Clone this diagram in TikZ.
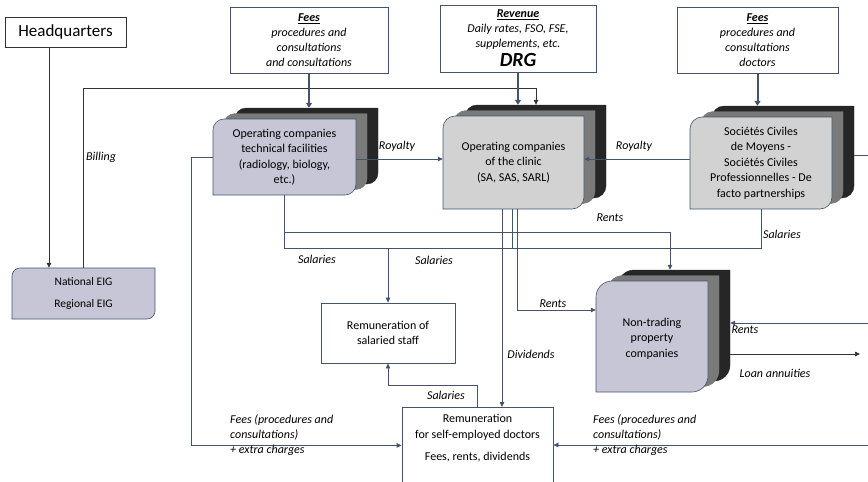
\documentclass[tikz,border=0pt]{standalone}
\usepackage{fontspec}
\setmainfont{Carlito}
\usetikzlibrary{arrows.meta,calc}

\definecolor{slate}{RGB}{68,84,106}
\definecolor{faceblue}{RGB}{198,198,214}
\definecolor{facegray}{RGB}{210,210,210}
\definecolor{layergray}{RGB}{122,122,122}
\definecolor{layerdark}{RGB}{38,38,38}

% face with rounded top-left and bottom-right corners: x1,y1,x2,y2,r,style
\newcommand{\roundface}[6]{%
  \filldraw[#6] ({#1},{#2+#5}) .. controls ({#1},{#2+0.45*#5}) and ({#1+0.45*#5},{#2}) .. ({#1+#5},{#2})
    -- ({#3},{#2}) -- ({#3},{#4-#5}) .. controls ({#3},{#4-0.45*#5}) and ({#3-0.45*#5},{#4}) .. ({#3-#5},{#4})
    -- ({#1},{#4}) -- cycle;}

% stacked box: name,x1,y1,x2,y2,face colour,text,radius
\newcommand{\stackbox}[8]{%
  \roundface{#2+22}{#3-11}{#4+22}{#5-11}{#8}{fill=layerdark,draw=layerdark}
  \roundface{#2+11}{#3-5.5}{#4+11}{#5-5.5}{#8}{fill=layergray,draw=layergray}
  \roundface{#2}{#3}{#4}{#5}{#8}{fill=#6,draw=slate,line width=0.6pt}
  \node[boxtext,minimum width={#4-#2},minimum height={#5-#3}] (#1) at ({(#2+#4)/2},{(#3+#5)/2}) {#7};}

\begin{document}
\begin{tikzpicture}[x=1pt, y=-1pt, >={Triangle[length=5pt,width=4.5pt]},
    boxtext/.style={align=center, inner sep=1pt, font=\fontsize{12}{15.5}\selectfont},
    plainbox/.style={draw=slate, line width=0.8pt, fill=white, align=center, font=\fontsize{12}{15}\selectfont},
    flowlabel/.style={inner sep=0pt, font=\fontsize{12}{15}\selectfont\itshape},
    flow/.style={draw=slate, line width=0.8pt},
    flowarrow/.style={flow, ->},
    blackarrow/.style={draw=black!80, line width=0.7pt, -{Triangle[length=5pt,width=4.5pt]}},
    feearrow/.style={draw=slate, line width=2pt, -{Triangle[length=5pt,width=6pt]}}]

  \useasboundingbox (0,0) rectangle (868,482);
  \clip (0,0) rectangle (868,482);

  % ==================== 1. top row ====================
  \node[plainbox, draw=black!80, minimum width=121, minimum height=30, font=\fontsize{17}{20}\selectfont] (hq) at (65.5,32) {Headquarters};
  \node[plainbox, minimum width=158, minimum height=66, font=\fontsize{12}{15}\selectfont\itshape] (feesA) at (309,40)
    {\underline{\textbf{Fees}}\\procedures and\\consultations\\and consultations};
  \node[plainbox, minimum width=156, minimum height=67, font=\fontsize{12}{15}\selectfont\itshape] (revenue) at (518,38.5)
    {\underline{\textbf{Revenue}}\\Daily rates, FSO, FSE,\\supplements, etc.\\[3pt]{\fontsize{20}{22}\selectfont\textbf{DRG}}};
  \node[plainbox, minimum width=161, minimum height=66, font=\fontsize{12}{15}\selectfont\itshape] (feesB) at (757.5,40)
    {\underline{\textbf{Fees}}\\procedures and\\consultations\\doctors};

  % ==================== 2. companies ====================
  \roundface{12}{268}{155}{319}{8}{fill=faceblue,draw=slate,line width=0.6pt}
  \node[align=center, minimum width=143, minimum height=51, font=\fontsize{11.5}{22}\selectfont] (eig) at (83.5,293.5) {National EIG\\Regional EIG};

  \stackbox{optech}{213}{119}{356}{195}{faceblue}{Operating companies\\technical facilities\\(radiology, biology,\\etc.)}{11}
  \stackbox{clinic}{443}{116}{584}{209}{facegray}{Operating companies\\of the clinic\\(SA, SAS, SARL)}{12}
  \stackbox{scm}{690}{117}{832}{209}{facegray}{Sociétés Civiles\\de Moyens -\\Sociétés Civiles\\Professionnelles - De\\facto partnerships}{12}
  \stackbox{nontrading}{596}{281}{708}{392}{faceblue}{\mbox{}\\[-3pt]Non-trading\\property\\companies}{16}

  % ==================== 3. remuneration ====================
  \node[plainbox, minimum width=134, minimum height=60] (salaried) at (388,333) {Remuneration of\\salaried staff};
  \node[plainbox, minimum width=151, minimum height=90, anchor=north] (selfemp) at (477.5,407) {};
  \node[boxtext, anchor=north] (selfemptext) at (477.5,413) {Remuneration\\for self-employed doctors\\[7pt]Fees, rents, dividends};

  % ==================== 4. connectors ====================
  \coordinate (billY) at (0,88);
  \coordinate (rentY) at (0,232);
  \coordinate (salY) at (0,248);
  \coordinate (optechback) at ([yshift=11]optech.north);
  \coordinate (clinicback) at ([yshift=11]clinic.north);
  \coordinate (scmback) at ([yshift=11]scm.north);
  \coordinate (ntback) at ([xshift=22]nontrading.east);
  \coordinate (edgeScm) at (868,155);
  \coordinate (edgeRents) at (868,323);
  \coordinate (loanEnd) at (860,354);
  \coordinate (edgeFees) at (868,445);

  \draw[blackarrow] ([xshift=-16.5]hq.south) -- ([xshift=-34.5]eig.north);
  \draw[blackarrow] (eig.north) -- (eig.north |- billY) -| ([xshift=22.5]clinicback);

  \draw[feearrow] (feesA.south) -- (feesA.south |- optechback);
  \draw[feearrow] (revenue.south) -- (revenue.south |- clinicback);
  \draw[feearrow] (feesB.south) -- (feesB.south |- scmback);

  \draw[flowarrow] ([yshift=-2]optech.east) -- ([yshift=-2]optech.east -| clinic.west);
  \draw[flowarrow] ([yshift=4]scm.west) -- ([yshift=4]scm.west -| clinic.east);
  \draw[flow] ([xshift=22,yshift=8]scm.east) -- (edgeScm);

  \draw[flowarrow] (optech.west) -- ++(-21,0) |- ([yshift=7]selfemp.west);
  \draw[flowarrow] (edgeFees) -- (edgeFees -| selfemp.east);

  \draw[flow] (optech.south) |- (scm.south |- salY) -- (scm.south);
  \draw[flowarrow] (optech.south |- rentY) -| ([xshift=18,yshift=11]nontrading.north);
  \draw[flowarrow] (salaried.north |- salY) -- (salaried.north);

  \draw[flowarrow] ([xshift=-11.5]clinic.south) -- ([xshift=24.5]selfemp.north);
  \draw[flow] ([xshift=-1.5]clinic.south) -- ([xshift=-1.5]clinic.south |- salY);
  \draw[flowarrow] ([xshift=3.5]clinic.south) |- ([yshift=26.5]nontrading.west);

  \draw[flowarrow] (selfemp.north) -- ++(0,-22) -| (salaried.south);

  \draw[flowarrow] (edgeRents) -- (edgeRents -| ntback);
  \draw[blackarrow] (loanEnd -| ntback) -- (loanEnd);

  % ==================== 5. labels ====================
  \node[flowlabel, anchor=west] (lblBilling) at (86,157) {Billing};
  \node[flowlabel] (lblRoyaltyL) at (397,146) {Royalty};
  \node[flowlabel] (lblRoyaltyR) at (634,146) {Royalty};
  \node[flowlabel] (lblRentsTop) at (610,218) {Rents};
  \node[flowlabel] (lblSalScm) at (782,234) {Salaries};
  \node[flowlabel] (lblSalL) at (317,259) {Salaries};
  \node[flowlabel] (lblSalM) at (434,260) {Salaries};
  \node[flowlabel] (lblRentsMid) at (553,304) {Rents};
  \node[flowlabel] (lblDividends) at (531,354) {Dividends};
  \node[flowlabel] (lblSalB) at (446,395) {Salaries};
  \node[flowlabel] (lblRentsR) at (745,330) {Rents};
  \node[flowlabel] (lblLoan) at (775,373) {Loan annuities};
  \node[flowlabel, anchor=north west, align=left] (lblFeesL) at (230,415) {Fees (procedures and\\consultations)\\+ extra charges};
  \node[flowlabel, anchor=north west, align=left] (lblFeesR) at (593,415) {Fees (procedures and\\consultations)\\+ extra charges};

\end{tikzpicture}
\end{document}
